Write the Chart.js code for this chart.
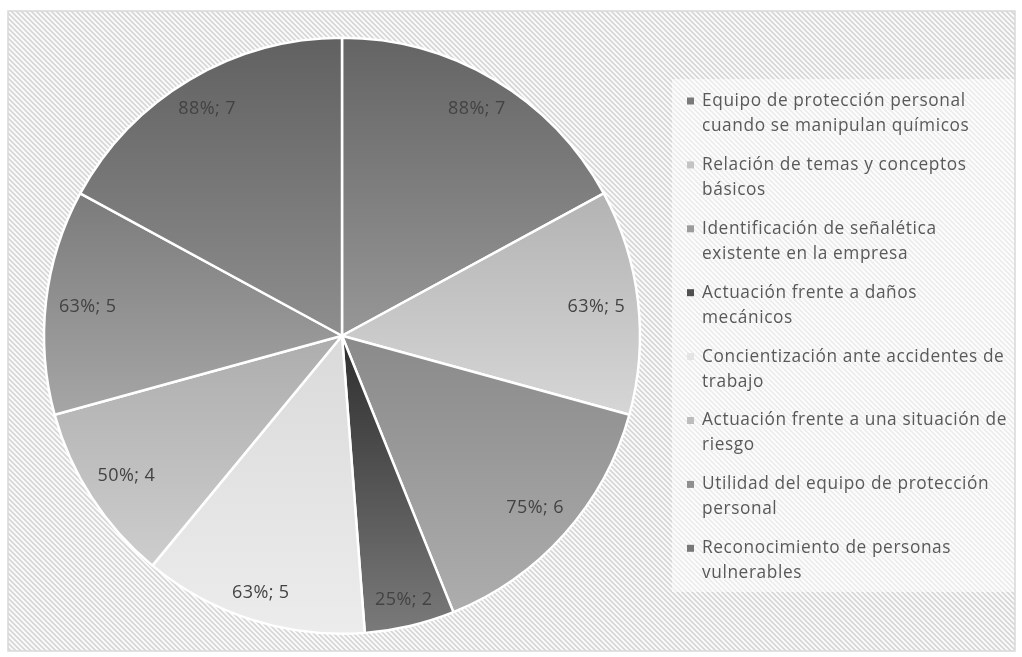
<!DOCTYPE html>
<html>
<head>
<meta charset="utf-8">
<script src="https://cdn.jsdelivr.net/npm/chart.js@4.4.1/dist/chart.umd.min.js"></script>
<style>
  html, body { margin: 0; padding: 0; background: #ffffff; }
  #wrap { width: 1022px; height: 657px; position: relative; }
  canvas { display: block; }
</style>
</head>
<body>
<div id="wrap"><canvas id="c" width="1022" height="657"></canvas></div>
<script>
// ---- data ----
const categories = [
  ['Equipo de protección personal', 'cuando se manipulan químicos'],
  ['Relación de temas y conceptos', 'básicos'],
  ['Identificación de señalética', 'existente en la empresa'],
  ['Actuación frente a daños', 'mecánicos'],
  ['Concientización ante accidentes de', 'trabajo'],
  ['Actuación frente a una situación de', 'riesgo'],
  ['Utilidad del equipo de protección', 'personal'],
  ['Reconocimiento de personas', 'vulnerables']
];
const counts = [7, 5, 6, 2, 5, 4, 5, 7];
const percentLabels = ['88%', '63%', '75%', '25%', '63%', '50%', '63%', '88%'];

// ---- styles ----
const topColors    = ['#646464', '#b3b3b3', '#8a8a8a', '#2e2e2e', '#dadada', '#adadad', '#7b7b7b', '#616161'];
const bottomColors = ['#979797', '#d6d6d6', '#adadad', '#7a7a7a', '#ececec', '#cdcdcd', '#a6a6a6', '#8e8e8e'];
const legendColors = ['#7a7a7a', '#c4c4c4', '#9c9c9c', '#505050', '#e4e4e4', '#bdbdbd', '#8f8f8f', '#787878'];

function makeHatch() {
  const s = 5;
  const p = document.createElement('canvas');
  p.width = s; p.height = s;
  const g = p.getContext('2d');
  g.fillStyle = '#fbfbfb';
  g.fillRect(0, 0, s, s);
  g.strokeStyle = '#d6d6d6';
  g.lineWidth = 1.6;
  g.beginPath();
  g.moveTo(-1, -1); g.lineTo(s + 1, s + 1);
  g.moveTo(-s - 1, -1); g.lineTo(1, s + 1);
  g.moveTo(s - 1, -1); g.lineTo(2 * s + 1, s + 1);
  g.stroke();
  return p;
}

const frame = { x: 8, y: 11, w: 1007, h: 640 };
const legendBox = { x: 672, y: 79, w: 343, h: 513 };

const backgroundPlugin = {
  id: 'bg',
  beforeDraw(chart) {
    const ctx = chart.ctx;
    ctx.save();
    ctx.fillStyle = '#ffffff';
    ctx.fillRect(0, 0, chart.width, chart.height);
    ctx.fillStyle = ctx.createPattern(makeHatch(), 'repeat');
    ctx.fillRect(frame.x, frame.y, frame.w, frame.h);
    ctx.fillStyle = 'rgba(255,255,255,0.55)';
    ctx.fillRect(legendBox.x, legendBox.y, legendBox.w, legendBox.h);
    ctx.strokeStyle = '#d9d9d9';
    ctx.lineWidth = 1.5;
    ctx.strokeRect(frame.x, frame.y, frame.w, frame.h);
    ctx.restore();
  }
};

const labelPlugin = {
  id: 'sliceLabels',
  afterDatasetsDraw(chart) {
    const ctx = chart.ctx;
    const meta = chart.getDatasetMeta(0);
    ctx.save();
    ctx.font = '18px "Open Sans"';
    ctx.letterSpacing = '0.4px';
    ctx.fillStyle = '#434343';
    ctx.textAlign = 'center';
    ctx.textBaseline = 'middle';
    meta.data.forEach((arc, i) => {
      const p = arc.getProps(['x', 'y', 'startAngle', 'endAngle', 'outerRadius'], true);
      const mid = (p.startAngle + p.endAngle) / 2;
      const text = percentLabels[i] + '; ' + counts[i];
      const hw = ctx.measureText(text).width / 2;
      const hh = 8;
      const dx = Math.cos(mid), dy = Math.sin(mid);
      const ext = hw * Math.abs(dx) + hh * Math.abs(dy);
      const d = p.outerRadius - 12.5 - ext;
      ctx.fillText(text, p.x + dx * d, p.y + dy * d);
    });
    ctx.restore();
  }
};

const legendPlugin = {
  id: 'sideLegend',
  afterDraw(chart) {
    const ctx = chart.ctx;
    ctx.save();
    ctx.font = '17.3px "Open Sans"';
    ctx.letterSpacing = '0.6px';
    ctx.textAlign = 'left';
    ctx.textBaseline = 'middle';
    const y0 = 101, pitch = 63.9, lh = 25;
    chart.data.labels.forEach((lab, i) => {
      const lines = categories[i];
      const y = y0 + i * pitch;
      ctx.fillStyle = legendColors[i];
      ctx.fillRect(687, y - 3.5, 7, 7);
      ctx.fillStyle = '#595959';
      lines.forEach((ln, k) => ctx.fillText(ln, 702, y + k * lh));
    });
    ctx.restore();
  }
};

function sliceGradient(context) {
  const chart = context.chart;
  const i = context.dataIndex;
  const area = chart.chartArea;
  if (!area) return legendColors[i];
  const cx = (area.left + area.right) / 2;
  const cy = (area.top + area.bottom) / 2;
  const r = (Math.min(area.right - area.left, area.bottom - area.top) - 2.5) / 2;
  const total = counts.reduce((a, b) => a + b, 0);
  let before = 0;
  for (let k = 0; k < i; k++) before += counts[k];
  const a0 = -Math.PI / 2 + before / total * 2 * Math.PI;
  const a1 = a0 + counts[i] / total * 2 * Math.PI;
  let ymin = cy, ymax = cy;
  for (let t = 0; t <= 40; t++) {
    const a = a0 + (a1 - a0) * t / 40;
    const yy = cy + r * Math.sin(a);
    ymin = Math.min(ymin, yy); ymax = Math.max(ymax, yy);
  }
  const g = chart.ctx.createLinearGradient(0, ymin, 0, ymax);
  g.addColorStop(0, topColors[i]);
  g.addColorStop(1, bottomColors[i]);
  return g;
}

new Chart(document.getElementById('c'), {
  type: 'pie',
  data: {
    labels: categories.map(l => l.join(' ')),
    datasets: [{
      data: counts,
      backgroundColor: sliceGradient,
      borderColor: '#ffffff',
      borderWidth: 2.5,
      hoverOffset: 0
    }]
  },
  options: {
    responsive: false,
    devicePixelRatio: 1,
    animation: false,
    layout: { padding: { left: 40.75, top: 36.5, right: 378.75, bottom: 22 } },
    plugins: {
      legend: { display: false },
      tooltip: { enabled: false }
    }
  },
  plugins: [backgroundPlugin, labelPlugin, legendPlugin]
});
</script>
</body>
</html>
